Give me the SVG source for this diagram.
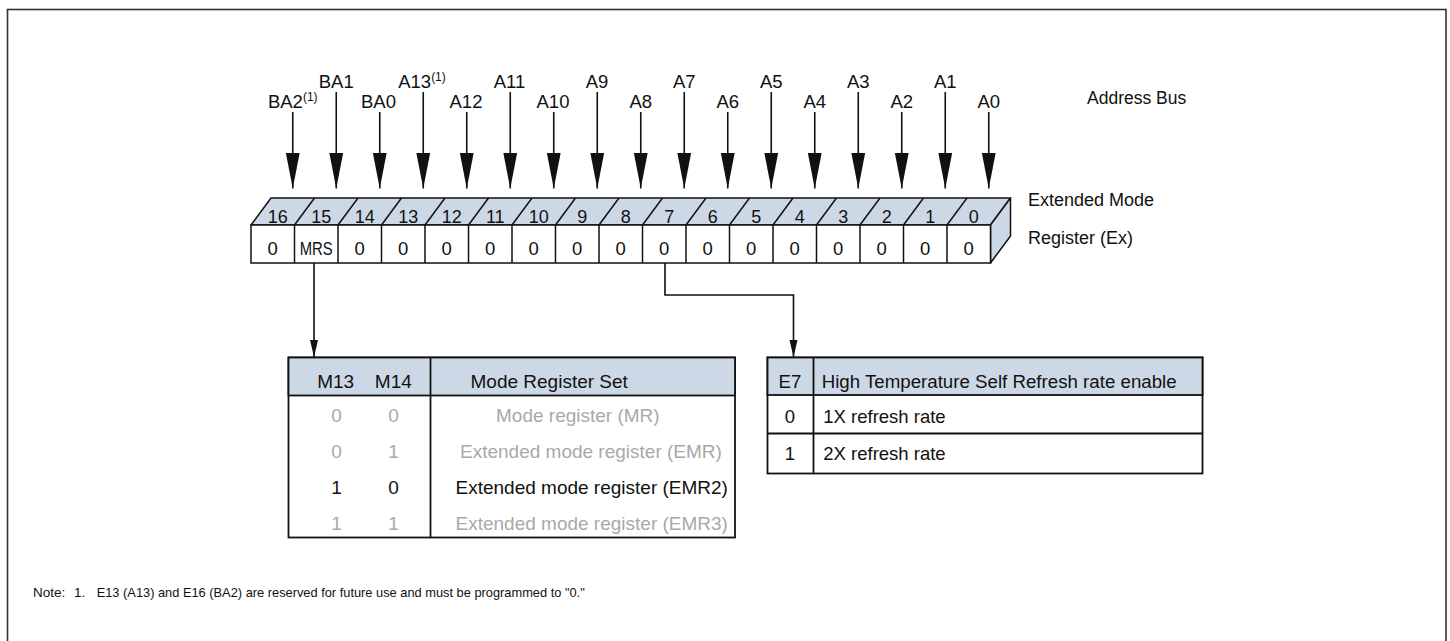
<svg xmlns="http://www.w3.org/2000/svg" width="1450" height="641" viewBox="0 0 1450 641">
<style>
text{font-family:"Liberation Sans",Arial,sans-serif;fill:#111}
.lbl{font-size:18.5px;text-anchor:middle}
.num{font-size:18px;text-anchor:middle}
.val{font-size:18.5px;text-anchor:middle}
.tb{font-size:19px}
.gr{fill:#a9a9a9}
.face{fill:#cdd8e7;stroke:#111;stroke-width:1.5;stroke-linejoin:round}
.cell{fill:#fff;stroke:#111;stroke-width:1.5}
.bus{stroke:#111;stroke-width:1.6;fill:none;marker-end:url(#big)}
.con{stroke:#111;stroke-width:1.6;fill:none;marker-end:url(#small)}
.tbl{fill:#fff;stroke:#111;stroke-width:1.8}
.hdr{fill:#cdd8e7;stroke:#111;stroke-width:1.8}
.ln{stroke:#111;stroke-width:1.8}
.note{font-size:13.5px}
</style>
<defs>
<marker id="big" markerUnits="userSpaceOnUse" markerWidth="37" markerHeight="15" refX="36" refY="7" orient="auto" viewBox="0 0 37 15">
<path d="M0,0 L36,7 L0,14 z" fill="#111"/>
</marker>
<marker id="small" markerUnits="userSpaceOnUse" markerWidth="18" markerHeight="9" refX="17" refY="4" orient="auto" viewBox="0 0 18 9">
<path d="M0,0 L17,4 L0,8 z" fill="#111"/>
</marker>
</defs>
<rect x="7.5" y="9.5" width="1438.5" height="700" fill="#fff" stroke="#333" stroke-width="1.6"/>

<g id="address-bus">
<text class="lbl" x="292.75" y="108">BA2<tspan dy="-7" font-size="12">(1)</tspan></text>
<text class="lbl" x="336.25" y="88">BA1</text>
<text class="lbl" x="378.5" y="108">BA0</text>
<text class="lbl" x="422" y="88">A13<tspan dy="-7" font-size="12">(1)</tspan></text>
<text class="lbl" x="466" y="108">A12</text>
<text class="lbl" x="509.5" y="88">A11</text>
<text class="lbl" x="553" y="108">A10</text>
<text class="lbl" x="597" y="88">A9</text>
<text class="lbl" x="640.75" y="108">A8</text>
<text class="lbl" x="684.25" y="88">A7</text>
<text class="lbl" x="727.75" y="108">A6</text>
<text class="lbl" x="771.25" y="88">A5</text>
<text class="lbl" x="814.75" y="108">A4</text>
<text class="lbl" x="858.25" y="88">A3</text>
<text class="lbl" x="901.75" y="108">A2</text>
<text class="lbl" x="945.25" y="88">A1</text>
<text class="lbl" x="988.75" y="108">A0</text>
<text x="1087" y="104" font-size="17.5">Address Bus</text>
</g>

<g id="register">
<polygon class="face" points="251,225 271,198 1010.5,198 990.5,225"/>
<polygon class="face" points="990.5,225 1010.5,198 1010.5,236 990.5,263"/>
<g stroke="#111" stroke-width="1.5">
<line x1="294.5" y1="225" x2="314.5" y2="198"/>
<line x1="338" y1="225" x2="358" y2="198"/>
<line x1="381.5" y1="225" x2="401.5" y2="198"/>
<line x1="425" y1="225" x2="445" y2="198"/>
<line x1="468.5" y1="225" x2="488.5" y2="198"/>
<line x1="512" y1="225" x2="532" y2="198"/>
<line x1="555.5" y1="225" x2="575.5" y2="198"/>
<line x1="599" y1="225" x2="619" y2="198"/>
<line x1="642.5" y1="225" x2="662.5" y2="198"/>
<line x1="686" y1="225" x2="706" y2="198"/>
<line x1="729.5" y1="225" x2="749.5" y2="198"/>
<line x1="773" y1="225" x2="793" y2="198"/>
<line x1="816.5" y1="225" x2="836.5" y2="198"/>
<line x1="860" y1="225" x2="880" y2="198"/>
<line x1="903.5" y1="225" x2="923.5" y2="198"/>
<line x1="947" y1="225" x2="967" y2="198"/>
</g>
<rect class="cell" x="251" y="225" width="739.5" height="38"/>
<g stroke="#111" stroke-width="1.5">
<line x1="294.5" y1="225" x2="294.5" y2="263"/>
<line x1="338" y1="225" x2="338" y2="263"/>
<line x1="381.5" y1="225" x2="381.5" y2="263"/>
<line x1="425" y1="225" x2="425" y2="263"/>
<line x1="468.5" y1="225" x2="468.5" y2="263"/>
<line x1="512" y1="225" x2="512" y2="263"/>
<line x1="555.5" y1="225" x2="555.5" y2="263"/>
<line x1="599" y1="225" x2="599" y2="263"/>
<line x1="642.5" y1="225" x2="642.5" y2="263"/>
<line x1="686" y1="225" x2="686" y2="263"/>
<line x1="729.5" y1="225" x2="729.5" y2="263"/>
<line x1="773" y1="225" x2="773" y2="263"/>
<line x1="816.5" y1="225" x2="816.5" y2="263"/>
<line x1="860" y1="225" x2="860" y2="263"/>
<line x1="903.5" y1="225" x2="903.5" y2="263"/>
<line x1="947" y1="225" x2="947" y2="263"/>
</g>
<text class="num" x="277.75" y="223">16</text>
<text class="num" x="321.25" y="223">15</text>
<text class="num" x="364.75" y="223">14</text>
<text class="num" x="408.25" y="223">13</text>
<text class="num" x="451.75" y="223">12</text>
<text class="num" x="495.25" y="223">11</text>
<text class="num" x="538.75" y="223">10</text>
<text class="num" x="582.25" y="223">9</text>
<text class="num" x="625.75" y="223">8</text>
<text class="num" x="669.25" y="223">7</text>
<text class="num" x="712.75" y="223">6</text>
<text class="num" x="756.25" y="223">5</text>
<text class="num" x="799.75" y="223">4</text>
<text class="num" x="843.25" y="223">3</text>
<text class="num" x="886.75" y="223">2</text>
<text class="num" x="930.25" y="223">1</text>
<text class="num" x="973.75" y="223">0</text>
<text class="val" x="272.75" y="255">0</text>
<text class="val" x="316.25" y="255" font-size="18" textLength="33" lengthAdjust="spacingAndGlyphs">MRS</text>
<text class="val" x="359.75" y="255">0</text>
<text class="val" x="403.25" y="255">0</text>
<text class="val" x="446.75" y="255">0</text>
<text class="val" x="490.25" y="255">0</text>
<text class="val" x="533.75" y="255">0</text>
<text class="val" x="577.25" y="255">0</text>
<text class="val" x="620.75" y="255">0</text>
<text class="val" x="664.25" y="255">0</text>
<text class="val" x="707.75" y="255">0</text>
<text class="val" x="751.25" y="255">0</text>
<text class="val" x="794.75" y="255">0</text>
<text class="val" x="838.25" y="255">0</text>
<text class="val" x="881.75" y="255">0</text>
<text class="val" x="925.25" y="255">0</text>
<text class="val" x="968.75" y="255">0</text>
<text x="1028" y="206" font-size="18">Extended Mode</text>
<text x="1028" y="244" font-size="18">Register (Ex)</text>
</g>

<g id="mode-register-set">
<rect class="tbl" x="288.5" y="357.5" width="446.5" height="180"/>
<rect class="hdr" x="288.5" y="357.5" width="446.5" height="38"/>
<line class="ln" x1="430.5" y1="357.5" x2="430.5" y2="537.5"/>
<text class="tb" x="335.7" y="388" text-anchor="middle">M13</text>
<text class="tb" x="393.3" y="388" text-anchor="middle">M14</text>
<text class="tb" x="470.5" y="388">Mode Register Set</text>
<text class="tb gr" x="336.5" y="422" text-anchor="middle">0</text>
<text class="tb gr" x="393.5" y="422" text-anchor="middle">0</text>
<text class="tb gr" x="496" y="422">Mode register (MR)</text>
<text class="tb gr" x="336.5" y="457.5" text-anchor="middle">0</text>
<text class="tb gr" x="393.5" y="457.5" text-anchor="middle">1</text>
<text class="tb gr" x="460" y="457.5">Extended mode register (EMR)</text>
<text class="tb" x="336.5" y="494" text-anchor="middle">1</text>
<text class="tb" x="393.5" y="494" text-anchor="middle">0</text>
<text class="tb" x="455.5" y="494">Extended mode register (EMR2)</text>
<text class="tb gr" x="336.5" y="529.5" text-anchor="middle">1</text>
<text class="tb gr" x="393.5" y="529.5" text-anchor="middle">1</text>
<text class="tb gr" x="455.5" y="529.5">Extended mode register (EMR3)</text>
</g>

<g id="e7-table">
<rect class="tbl" x="767.5" y="357.5" width="435" height="116"/>
<rect class="hdr" x="767.5" y="357.5" width="435" height="37.5"/>
<line class="ln" x1="767.5" y1="433.5" x2="1202.5" y2="433.5"/>
<line class="ln" x1="813.5" y1="357.5" x2="813.5" y2="473.5"/>
<text x="790" y="388.3" font-size="18.7" text-anchor="middle">E7</text>
<text x="821.7" y="388.3" font-size="18.7">High Temperature Self Refresh rate enable</text>
<text x="790" y="423.3" font-size="18.5" text-anchor="middle">0</text>
<text x="823.3" y="423.3" font-size="18.5">1X refresh rate</text>
<text x="790" y="460" font-size="18.5" text-anchor="middle">1</text>
<text x="823.3" y="460" font-size="18.5">2X refresh rate</text>
</g>

<g id="connectors">
<line class="bus" x1="292.75" y1="112" x2="292.75" y2="188.5"/>
<line class="bus" x1="336.25" y1="92" x2="336.25" y2="188.5"/>
<line class="bus" x1="379.75" y1="112" x2="379.75" y2="188.5"/>
<line class="bus" x1="423.25" y1="92" x2="423.25" y2="188.5"/>
<line class="bus" x1="466.75" y1="112" x2="466.75" y2="188.5"/>
<line class="bus" x1="510.25" y1="92" x2="510.25" y2="188.5"/>
<line class="bus" x1="553.75" y1="112" x2="553.75" y2="188.5"/>
<line class="bus" x1="597.25" y1="92" x2="597.25" y2="188.5"/>
<line class="bus" x1="640.75" y1="112" x2="640.75" y2="188.5"/>
<line class="bus" x1="684.25" y1="92" x2="684.25" y2="188.5"/>
<line class="bus" x1="727.75" y1="112" x2="727.75" y2="188.5"/>
<line class="bus" x1="771.25" y1="92" x2="771.25" y2="188.5"/>
<line class="bus" x1="814.75" y1="112" x2="814.75" y2="188.5"/>
<line class="bus" x1="858.25" y1="92" x2="858.25" y2="188.5"/>
<line class="bus" x1="901.75" y1="112" x2="901.75" y2="188.5"/>
<line class="bus" x1="945.25" y1="92" x2="945.25" y2="188.5"/>
<line class="bus" x1="988.75" y1="112" x2="988.75" y2="188.5"/>
<path class="con" d="M314,263 V357"/>
<path class="con" d="M665,263 V295 H793.5 V357"/>
</g>

<g id="note">
<text class="note" x="33" y="597">Note:</text>
<text class="note" x="74" y="597">1.</text>
<text class="note" x="96.7" y="597" textLength="488" lengthAdjust="spacingAndGlyphs">E13 (A13) and E16 (BA2) are reserved for future use and must be programmed to "0."</text>
</g>
</svg>
